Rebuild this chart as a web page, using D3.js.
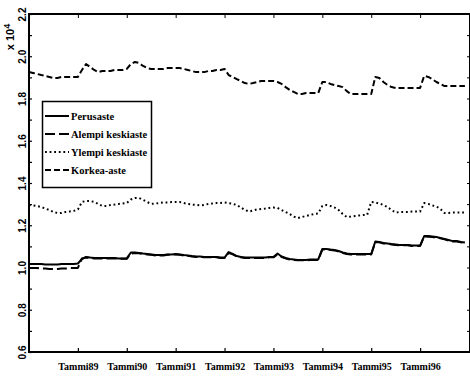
<!DOCTYPE html>
<html>
<head>
<meta charset="utf-8">
<script src="https://cdn.jsdelivr.net/npm/d3@7/dist/d3.min.js"></script>
<style>
  body { margin: 0; background: #fff; }
  svg { display: block; }
</style>
</head>
<body>
<svg id="chart" width="470" height="376"></svg>
<script>
// Monthly values, January 1988 .. December 1996 (index 0 = Tammi88)
const perusaste = [
  10170,10170,10170,10170,10140,10140,10140,10140,10170,10170,10170,10170,
  10190,10400,10500,10470,10450,10450,10450,10450,10450,10450,10430,10430,
  10430,10710,10710,10690,10660,10640,10620,10590,10590,10590,10620,10620,
  10640,10620,10590,10570,10540,10520,10520,10500,10500,10500,10500,10470,
  10470,10730,10640,10540,10500,10470,10470,10470,10470,10470,10470,10500,
  10500,10660,10520,10450,10400,10380,10360,10360,10360,10380,10380,10380,
  10880,10880,10850,10830,10780,10710,10660,10640,10640,10640,10640,10640,
  10640,11230,11210,11160,11140,11110,11090,11070,11070,11070,11040,11040,
  11040,11490,11490,11470,11440,11400,11350,11300,11250,11250,11210,11180
];
const alempiKeskiaste = [
  9980,9980,9980,9950,9950,9930,9930,9930,9950,9950,9980,9980,
  9980,10430,10470,10450,10430,10430,10430,10430,10430,10430,10410,10410,
  10410,10660,10690,10670,10640,10620,10600,10570,10570,10570,10600,10600,
  10620,10600,10570,10550,10520,10500,10500,10480,10480,10480,10480,10450,
  10450,10690,10620,10520,10480,10450,10450,10450,10450,10450,10450,10480,
  10480,10620,10500,10430,10380,10360,10340,10340,10340,10360,10360,10360,
  10850,10860,10830,10810,10760,10690,10640,10620,10620,10620,10620,10620,
  10620,11190,11190,11140,11120,11090,11070,11050,11050,11050,11020,11020,
  11020,11470,11460,11440,11410,11380,11330,11280,11230,11230,11190,11160
];
const ylempiKeskiaste = [
  12960,12940,12910,12860,12790,12720,12630,12580,12580,12630,12650,12680,
  12750,13100,13150,13150,13100,13010,12910,12910,12960,12980,13010,13030,
  13050,13220,13290,13290,13200,13100,13010,13030,13050,13080,13080,13100,
  13100,13100,13050,13010,12980,12960,12940,12960,13010,13030,13050,13050,
  13080,13050,13010,12960,12840,12720,12650,12700,12750,12770,12790,12820,
  12840,12820,12720,12630,12530,12410,12340,12390,12440,12490,12530,12560,
  12910,12960,12910,12840,12720,12530,12390,12410,12440,12460,12490,12490,
  13100,13080,13030,12960,12860,12720,12600,12630,12630,12630,12650,12650,
  12650,13050,13010,12940,12890,12770,12580,12580,12600,12600,12600,12600
];
const korkeaAste = [
  19250,19210,19160,19110,19070,19020,18970,18970,19020,19020,19020,19020,
  19020,19350,19630,19490,19350,19250,19300,19300,19300,19350,19350,19350,
  19400,19630,19730,19680,19540,19440,19400,19400,19400,19400,19440,19440,
  19440,19440,19400,19350,19300,19250,19250,19250,19300,19300,19350,19350,
  19400,19110,19020,18920,18830,18730,18690,18730,18780,18830,18830,18830,
  18830,18780,18690,18540,18400,18310,18210,18210,18260,18260,18260,18260,
  18780,18780,18690,18640,18590,18540,18350,18210,18210,18210,18210,18210,
  18210,19020,18970,18780,18640,18540,18500,18500,18500,18500,18500,18500,
  18500,19070,19020,18920,18780,18690,18590,18590,18590,18590,18590,18590
];

const seriesNames = ["Perusaste", "Alempi keskiaste", "Ylempi keskiaste", "Korkea-aste"];
const yearTickMonths = [12, 24, 36, 48, 60, 72, 84, 96];
const yearTickLabels = ["Tammi89", "Tammi90", "Tammi91", "Tammi92", "Tammi93", "Tammi94", "Tammi95", "Tammi96"];
const yTickValues = [6000, 8000, 10000, 12000, 14000, 16000, 18000, 20000, 22000];
const yTickLabels = ["0.6", "0.8", "1.0", "1.2", "1.4", "1.6", "1.8", "2.0", "2.2"];
const yMinorTicks = d3.range(6000, 22001, 1000);

const series = [
  { name: seriesNames[3], values: korkeaAste, dash: "6,3" },
  { name: seriesNames[2], values: ylempiKeskiaste, dash: "1.8,2.8" },
  { name: seriesNames[1], values: alempiKeskiaste, dash: "10,4" },
  { name: seriesNames[0], values: perusaste, dash: null }
];

const svg = d3.select("#chart");
const plotLeft = 29, plotRight = 470, plotTop = 14, plotBottom = 352;

const x = d3.scaleLinear().domain([0, 108]).range([plotLeft, 469]);
const y = d3.scaleLinear().domain([6000, 22000]).range([plotBottom, plotTop]);

// data lines
const line = d3.line().x((d, i) => x(i)).y(d => y(d));
svg.append("g").selectAll("path")
  .data(series)
  .join("path")
  .attr("d", d => line(d.values))
  .attr("fill", "none")
  .attr("stroke", "#000")
  .attr("stroke-width", 2)
  .attr("stroke-linejoin", "round")
  .attr("stroke-dasharray", d => d.dash);

// left axis: minor inward ticks, rotated labels
const gLeft = svg.append("g").attr("transform", `translate(${plotLeft},0)`);
gLeft.call(d3.axisLeft(y).tickValues(yMinorTicks).tickSize(-3).tickFormat(""));
gLeft.selectAll(".tick line").attr("stroke-width", 1.2);
const gLeftLab = svg.append("g").attr("transform", `translate(${plotLeft},0)`);
gLeftLab.call(d3.axisLeft(y).tickValues(yTickValues).tickSize(0)
  .tickFormat((d, i) => yTickLabels[i]));
gLeftLab.select(".domain").remove();
gLeftLab.selectAll(".tick text")
  .attr("x", null).attr("dy", null)
  .attr("text-anchor", "middle")
  .attr("fill", "#000")
  .attr("transform", "translate(-3,0) rotate(-90)")
  .style("font-family", "'Liberation Sans', Arial, sans-serif")
  .style("font-weight", "bold")
  .style("font-size", "10px");

// right axis ticks
const gRight = svg.append("g").attr("transform", `translate(${plotRight},0)`);
gRight.call(d3.axisRight(y).tickValues(yMinorTicks).tickSize(-3).tickFormat(""));

// bottom axis with month labels
const gBottom = svg.append("g").attr("transform", `translate(0,${plotBottom})`);
gBottom.call(d3.axisBottom(x).tickValues(yearTickMonths).tickSize(-4).tickPadding(11)
  .tickFormat((d, i) => yearTickLabels[i]));
gBottom.selectAll(".tick line").attr("stroke-width", 1.2);
gBottom.selectAll(".tick text")
  .attr("fill", "#000")
  .style("font-family", "'Liberation Serif', 'Times New Roman', serif")
  .style("font-weight", "bold")
  .style("font-size", "10px");

// top axis ticks
const gTop = svg.append("g").attr("transform", `translate(0,${plotTop})`);
gTop.call(d3.axisTop(x).tickValues(yearTickMonths).tickSize(-4).tickFormat(""));

svg.selectAll(".domain").remove();

// frame
svg.append("path")
  .attr("d", `M${plotLeft},${plotTop}H${plotRight}V${plotBottom}H${plotLeft}Z`)
  .attr("fill", "none")
  .attr("stroke", "#000")
  .attr("stroke-width", 2);

// exponent label
const expo = svg.append("text")
  .attr("transform", "translate(14,37) rotate(-90)")
  .attr("text-anchor", "middle")
  .style("font-family", "'Liberation Sans', Arial, sans-serif")
  .style("font-weight", "bold")
  .style("font-size", "11px");
expo.append("tspan").text("x 10");
expo.append("tspan").attr("dy", -4).style("font-size", "9px").text("4");

// legend
const legend = svg.append("g");
legend.append("rect")
  .attr("x", 42.5).attr("y", 101.5).attr("width", 109).attr("height", 86)
  .attr("fill", "#fff").attr("stroke", "#000").attr("stroke-width", 1.5);
const legendRows = [
  { name: seriesNames[0], dash: null },
  { name: seriesNames[1], dash: "10,4" },
  { name: seriesNames[2], dash: "1.8,2.8" },
  { name: seriesNames[3], dash: "6,3" }
];
const rowY = d3.scalePoint().domain(seriesNames).range([116, 170]);
const rows = legend.selectAll("g.row").data(legendRows).join("g")
  .attr("class", "row")
  .attr("transform", d => `translate(0,${rowY(d.name)})`);
rows.append("line")
  .attr("x1", 45).attr("x2", 69).attr("y1", 0).attr("y2", 0)
  .attr("stroke", "#000").attr("stroke-width", 2)
  .attr("stroke-dasharray", d => d.dash);
rows.append("text")
  .attr("x", 71).attr("y", 4)
  .style("font-family", "'Liberation Serif', 'Times New Roman', serif")
  .style("font-weight", "bold")
  .style("font-size", "10.5px")
  .text(d => d.name);
</script>
</body>
</html>
